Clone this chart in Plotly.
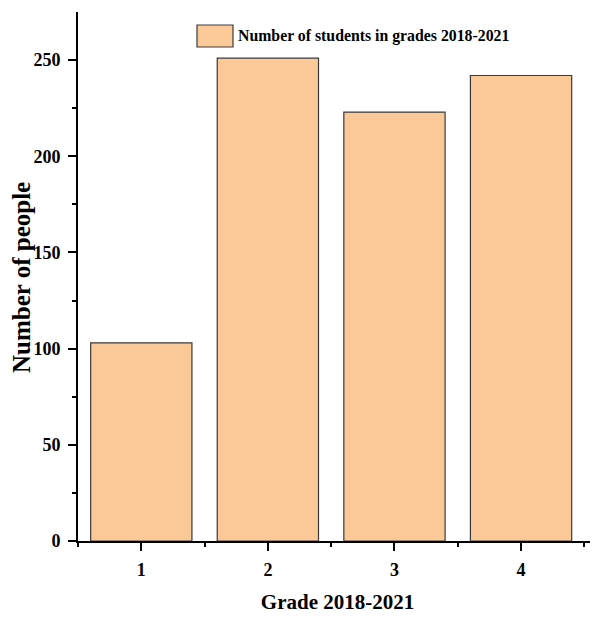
import plotly.graph_objects as go

grades = [1, 2, 3, 4]
students = [103, 251, 223, 242]
series_name = "Number of students in grades 2018-2021"
x_title = "Grade 2018-2021"
y_title = "Number of people"
y_ticks = [0, 50, 100, 150, 200, 250]

FONT = "Liberation Serif, Times New Roman, serif"
FILL = "#FBC898"
EDGE = "#3a3a3a"

# page body has an 8px margin, so the figure is sized/offset to land in place
W, H = 590, 613
L, R, T, B = 70, 1, 4, 80
PW, PH = W - L - R, H - T - B

fig = go.Figure()
fig.add_trace(go.Bar(
    x=grades, y=students, name=series_name, width=0.8,
    marker=dict(color=FILL, line=dict(color=EDGE, width=1.2)),
    showlegend=False,
))

fig.update_layout(
    width=W, height=H,
    margin=dict(l=L, r=R, t=T, b=B, autoexpand=False),
    plot_bgcolor="white", paper_bgcolor="white",
    font=dict(family=FONT, color="black"),
)

fig.update_xaxes(
    range=[0.5, 4.6],
    tickmode="array", tickvals=grades, ticktext=[str(g) for g in grades],
    ticks="outside", ticklen=8, tickwidth=1.5, tickcolor="black",
    minor=dict(tickvals=[0.5, 1.5, 2.5, 3.5, 4.5], ticks="outside", ticklen=4, tickwidth=1.5, tickcolor="black"),
    showline=True, linecolor="black", linewidth=2,
    showgrid=False, zeroline=False,
    ticklabelstandoff=3,
    tickfont=dict(size=18, family=FONT, weight="bold"),
    title=dict(text=x_title, font=dict(size=21, family=FONT, weight="bold"), standoff=16),
)
fig.update_yaxes(
    range=[0, 275],
    tickmode="array", tickvals=y_ticks, ticktext=[str(v) for v in y_ticks],
    ticks="outside", ticklen=8, tickwidth=1.5, tickcolor="black",
    minor=dict(tickvals=[25, 75, 125, 175, 225], ticks="outside", ticklen=4, tickwidth=1.5, tickcolor="black"),
    showline=True, linecolor="black", linewidth=2,
    showgrid=False, zeroline=False,
    ticklabelstandoff=4,
    tickfont=dict(size=18, family=FONT, weight="bold"),
)


def px(xp):
    return (xp - 8 - L) / PW


def py(yp):
    return (H - B - (yp - 8)) / PH


# y-axis title as a rotated annotation
fig.add_annotation(xref="paper", yref="paper", x=px(21), y=py(278),
                   xanchor="center", yanchor="middle", showarrow=False,
                   textangle=-90, text=y_title,
                   font=dict(size=25, family=FONT, weight="bold", color="black"))

# Legend drawn manually (large swatch) in paper coordinates
fig.add_shape(type="rect", xref="paper", yref="paper",
              x0=px(197), x1=px(233), y0=py(47), y1=py(25),
              fillcolor=FILL, line=dict(color=EDGE, width=1.2))
fig.add_annotation(xref="paper", yref="paper",
                   x=px(236), y=py(36),
                   xanchor="left", yanchor="middle", showarrow=False,
                   text=series_name,
                   font=dict(size=15.8, family=FONT, weight="bold", color="black"))

fig.write_html("out.html")
